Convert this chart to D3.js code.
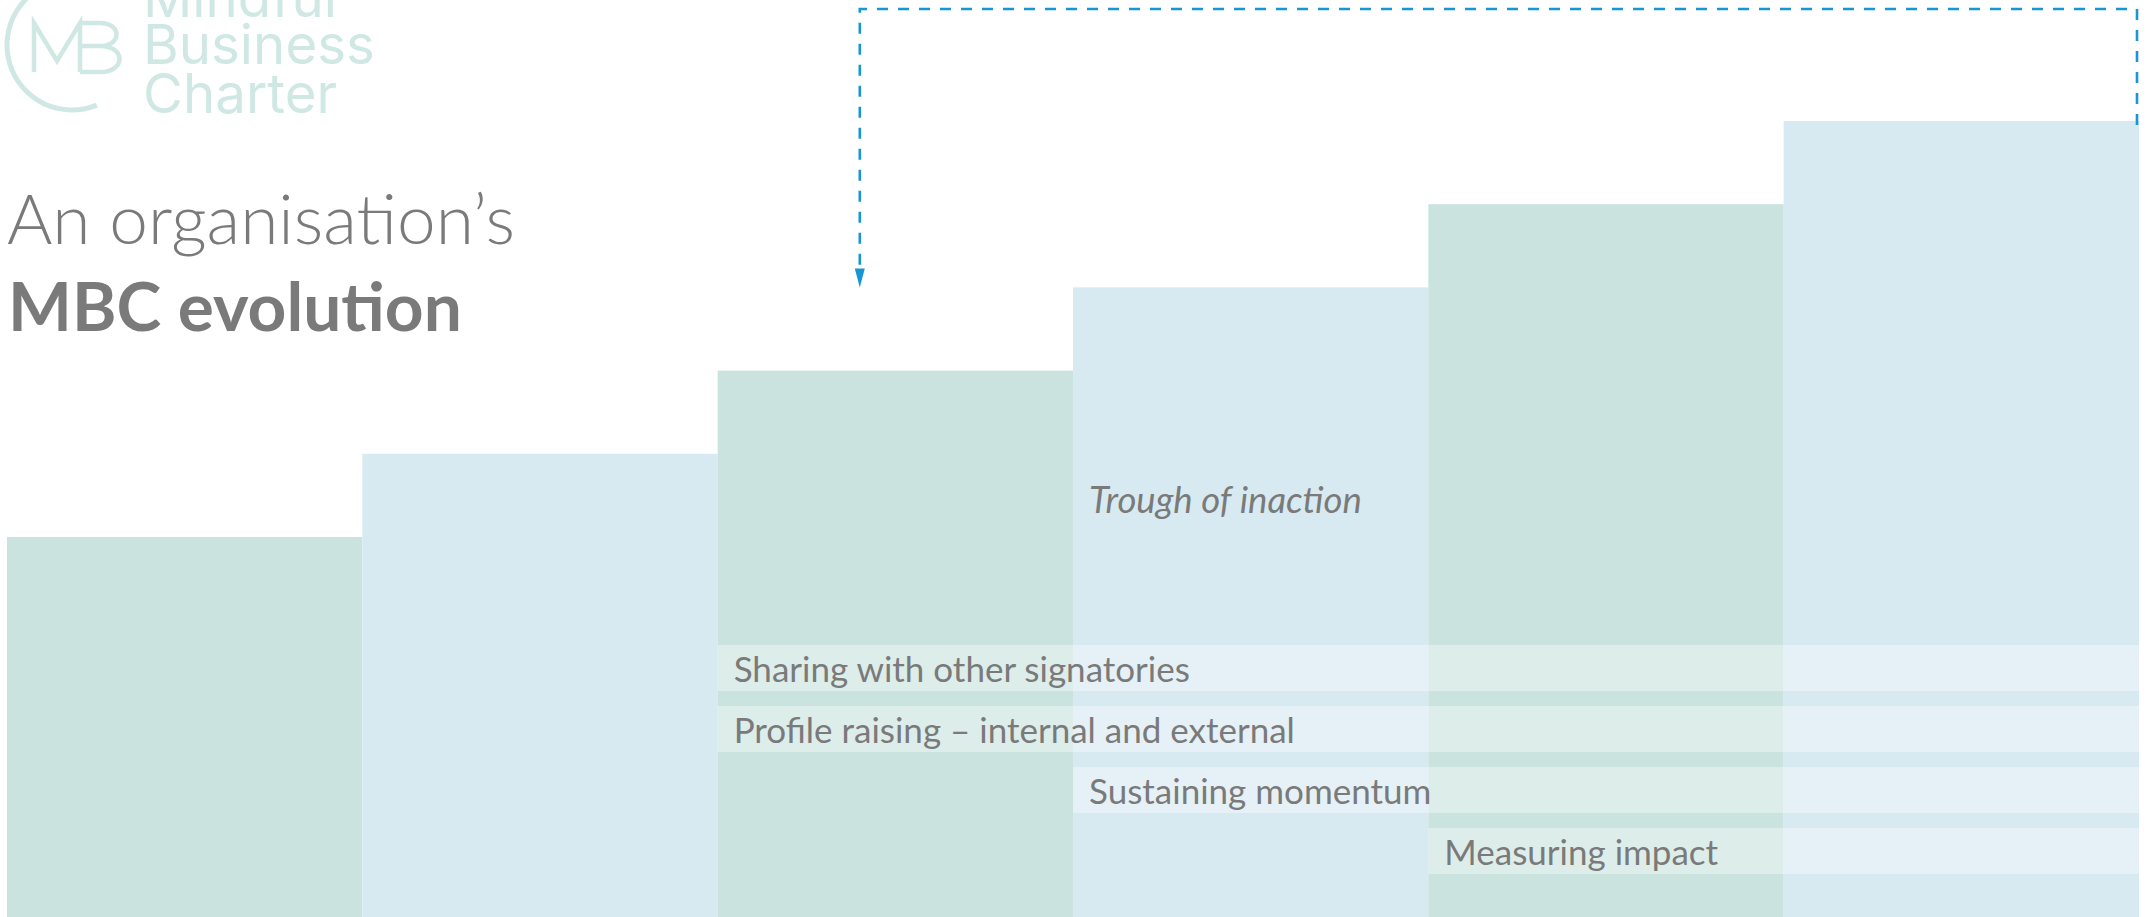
<!DOCTYPE html>
<html>
<head>
<meta charset="utf-8">
<script src="https://cdn.jsdelivr.net/npm/d3@7"></script>
<style>
  html, body { margin: 0; padding: 0; background: #ffffff; overflow: hidden; }
  svg { display: block; }
</style>
</head>
<body>
<svg id="chart" width="2147" height="917"></svg>
<script>
// ---------- data ----------
const stages = ["Stage 1", "Stage 2", "Stage 3", "Stage 4", "Stage 5", "Stage 6"];
const levels = [1, 2, 3, 4, 5, 6];
const activities = [
  "Sharing with other signatories",
  "Profile raising – internal and external",
  "Sustaining momentum",
  "Measuring impact"
];
const activityStart = ["Stage 3", "Stage 3", "Stage 4", "Stage 5"];
const annotationText = "Trough of inaction";
const annotationStage = "Stage 4";
const arrowFromStage = "Stage 6";
const arrowToLevel = 4;
const titleLines = ["An organisation’s", "MBC evolution"];
const logoLines = ["Mindful", "Business", "Charter"];

// ---------- setup ----------
const W = 2147, H = 917;
const svg = d3.select("#chart");
const green = "#cae3df", blue = "#d7eaf1";
const textGrey = "#7a7a7a";
const lineBlue = "#1796d3";
const logoColor = "#cfe8e3";

const x = d3.scaleBand().domain(stages).range([7, 2139]).padding(0);
const y = d3.scaleLinear().domain([1, 6]).range([537, 121]);
const rows = d3.scaleBand().domain(activities).range([645, 874])
  .paddingInner(15 / 61).paddingOuter(0);

const data = stages.map((s, i) => ({ stage: s, level: levels[i], i }));

// ---------- bars ----------
svg.append("g").selectAll("rect").data(data).join("rect")
  .attr("x", d => x(d.stage))
  .attr("y", d => y(d.level))
  .attr("width", x.bandwidth())
  .attr("height", d => H - y(d.level))
  .attr("fill", d => d.i % 2 === 0 ? green : blue);

// ---------- activity bands ----------
const lastStage = stages[stages.length - 1];
const bandData = activities.map((a, i) => ({ name: a, start: activityStart[i] }));
svg.append("g").selectAll("rect").data(bandData).join("rect")
  .attr("x", d => x(d.start))
  .attr("y", d => rows(d.name))
  .attr("width", d => x(lastStage) + x.bandwidth() - x(d.start))
  .attr("height", rows.bandwidth())
  .attr("fill", "#ffffff")
  .attr("fill-opacity", 0.36);

svg.append("g").selectAll("text").data(bandData).join("text")
  .attr("x", d => x(d.start) + 16)
  .attr("y", d => rows(d.name) + rows.bandwidth() * 0.8)
  .attr("font-family", "Lato, 'Open Sans', sans-serif")
  .attr("font-size", 35)
  .attr("fill", textGrey)
  .text(d => d.name);

// ---------- annotation ----------
svg.append("text")
  .attr("x", x(annotationStage) + 16)
  .attr("y", rows(activities[0]) - 132)
  .attr("font-family", "Lato, 'Open Sans', sans-serif")
  .attr("font-style", "italic")
  .attr("font-size", 36.5)
  .attr("fill", textGrey)
  .text(annotationText);

// ---------- dashed arrow ----------
const xr = x(arrowFromStage) + x.bandwidth() - 2;
const xl = x("Stage 3") + x.bandwidth() * 0.4;
const yTop = 9;
const tipY = y(arrowToLevel);
const headLen = 19, headW = 10;
const p = d3.path();
p.moveTo(xr, y(6) + 4);
p.lineTo(xr, yTop);
p.lineTo(xl, yTop);
p.lineTo(xl, tipY - headLen + 2);
svg.append("path")
  .attr("d", p.toString())
  .attr("fill", "none")
  .attr("stroke", lineBlue)
  .attr("stroke-width", 2.6)
  .attr("stroke-dasharray", "11 10");
svg.append("path")
  .attr("d", `M${xl},${tipY} L${xl - headW / 2},${tipY - headLen} L${xl + headW / 2},${tipY - headLen} Z`)
  .attr("fill", lineBlue);

// ---------- title ----------
function fit(sel, w) {
  const l = sel.node().getComputedTextLength();
  const fs = parseFloat(sel.attr("font-size"));
  if (l > 0) sel.attr("font-size", fs * w / l);
}
const t1 = svg.append("text")
  .attr("x", 7).attr("y", 244)
  .attr("font-family", "Lato, 'Open Sans', sans-serif")
  .attr("font-weight", 300)
  .attr("font-size", 70)
  .attr("fill", textGrey)
  .text(titleLines[0]);
fit(t1, 508);
const t2 = svg.append("text")
  .attr("x", 8).attr("y", 331)
  .attr("font-family", "Lato, 'Open Sans', sans-serif")
  .attr("font-weight", 700)
  .attr("font-size", 70)
  .attr("fill", textGrey)
  .text(titleLines[1]);
fit(t2, 454);

// ---------- logo ----------
const logo = svg.append("g");
logo.append("path")
  .attr("transform", "translate(72,45)")
  .attr("d", d3.arc().innerRadius(62.5).outerRadius(67.5)
    .startAngle(2.75).endAngle(6.1)())
  .attr("fill", logoColor);
const mb = d3.path();
// M
mb.moveTo(34, 72); mb.lineTo(34, 23); mb.lineTo(57, 61); mb.lineTo(80, 23); mb.lineTo(80, 72);
// B
mb.moveTo(80, 23); mb.lineTo(100, 23);
mb.bezierCurveTo(122, 23, 122, 46, 100, 46);
mb.lineTo(80, 46);
mb.moveTo(100, 46);
mb.bezierCurveTo(126, 46, 126, 72, 100, 72);
mb.lineTo(80, 72);
logo.append("path")
  .attr("d", mb.toString())
  .attr("fill", "none")
  .attr("stroke", logoColor)
  .attr("stroke-width", 4.5)
  .attr("stroke-linejoin", "miter");
const logoY = [17, 64, 113];
const lt = logo.selectAll("text").data(logoLines).join("text")
  .attr("x", 143)
  .attr("y", (d, i) => logoY[i])
  .attr("font-family", "Inter, 'Open Sans', sans-serif")
  .attr("font-weight", 400)
  .attr("font-size", 50)
  .attr("fill", logoColor)
  .text(d => d);
const bus = lt.filter(d => d === "Business");
const l = bus.node().getComputedTextLength();
lt.attr("font-size", 50 * 232 / l);
</script>
</body>
</html>
